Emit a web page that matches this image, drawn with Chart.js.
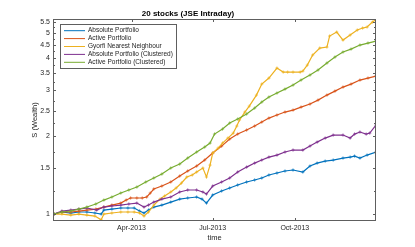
<!DOCTYPE html>
<html>
<head>
<meta charset="utf-8">
<script src="https://cdn.jsdelivr.net/npm/chart.js@4.4.1/dist/chart.umd.min.js"></script>
<style>
  html, body { margin: 0; padding: 0; background: #fff; }
  #wrap { width: 415px; height: 247px; }
</style>
</head>
<body>
<div id="wrap"><canvas id="wealthChart" width="415" height="247"></canvas></div>
<script>
// x values are day of year 2013 (0 = 1 Jan), y values are wealth S
const absDays = [3, 12, 22, 31, 40, 49, 56, 59, 68, 78, 86, 93, 99, 104, 109, 115, 124, 134, 144, 153, 163, 169, 174, 181, 191, 200, 209, 219, 228, 236, 244, 253, 262, 271, 282, 290, 298, 307, 316, 327, 335, 340, 346, 354, 364];
const absVals = [1.000, 1.018, 1.009, 1.018, 1.018, 1.009, 1.000, 1.036, 1.045, 1.055, 1.055, 1.055, 1.027, 1.009, 1.036, 1.064, 1.083, 1.112, 1.142, 1.153, 1.163, 1.142, 1.102, 1.184, 1.227, 1.260, 1.294, 1.329, 1.353, 1.377, 1.414, 1.439, 1.465, 1.478, 1.452, 1.531, 1.572, 1.600, 1.615, 1.644, 1.658, 1.673, 1.644, 1.688, 1.734];

const actDays = [3, 12, 22, 31, 40, 50, 59, 68, 78, 84, 89, 96, 102, 107, 111, 115, 124, 134, 144, 153, 163, 172, 181, 191, 200, 209, 219, 228, 236, 244, 253, 262, 271, 280, 290, 299, 309, 318, 327, 336, 346, 355, 364];
const actVals = [1.000, 1.018, 1.018, 1.027, 1.036, 1.045, 1.064, 1.083, 1.102, 1.132, 1.153, 1.153, 1.153, 1.163, 1.205, 1.249, 1.282, 1.329, 1.401, 1.465, 1.531, 1.615, 1.718, 1.828, 1.946, 2.034, 2.108, 2.184, 2.263, 2.344, 2.408, 2.473, 2.517, 2.585, 2.655, 2.750, 2.875, 2.979, 3.087, 3.170, 3.285, 3.344, 3.404];

const gyoDays = [3, 12, 22, 31, 40, 49, 56, 59, 68, 78, 86, 93, 99, 104, 109, 115, 122, 127, 134, 140, 146, 152, 158, 163, 170, 174, 178, 181, 187, 192, 198, 204, 208, 211, 217, 222, 230, 236, 244, 253, 260, 265, 271, 279, 282, 287, 293, 301, 309, 312, 320, 327, 335, 343, 349, 354, 360, 364];
const gyoVals = [1.000, 1.000, 0.991, 1.000, 0.991, 0.982, 0.950, 1.000, 1.009, 1.018, 1.018, 1.018, 1.009, 0.982, 1.018, 1.083, 1.142, 1.173, 1.216, 1.260, 1.317, 1.389, 1.414, 1.452, 1.504, 1.389, 1.544, 1.718, 1.796, 1.878, 1.963, 2.052, 2.184, 2.303, 2.473, 2.608, 2.875, 3.170, 3.344, 3.654, 3.527, 3.527, 3.527, 3.527, 3.558, 3.753, 4.102, 4.365, 4.404, 4.856, 5.032, 4.686, 4.899, 5.122, 5.214, 5.260, 5.499, 5.620];

const absClDays = [3, 12, 22, 31, 40, 51, 59, 68, 78, 87, 96, 104, 109, 115, 124, 134, 144, 153, 163, 170, 174, 181, 191, 200, 209, 219, 228, 236, 244, 253, 262, 271, 282, 290, 298, 307, 316, 327, 335, 340, 346, 353, 357, 364];
const absClVals = [1.000, 1.027, 1.036, 1.045, 1.055, 1.036, 1.064, 1.074, 1.083, 1.093, 1.102, 1.064, 1.083, 1.112, 1.142, 1.163, 1.216, 1.238, 1.238, 1.216, 1.194, 1.282, 1.329, 1.377, 1.452, 1.517, 1.572, 1.615, 1.658, 1.688, 1.734, 1.765, 1.765, 1.828, 1.894, 1.963, 2.016, 2.016, 1.963, 2.034, 2.071, 2.034, 2.052, 2.203];

const actClDays = [3, 12, 22, 31, 40, 50, 59, 68, 78, 87, 96, 106, 115, 124, 134, 144, 153, 163, 172, 178, 183, 192, 200, 209, 219, 228, 236, 244, 253, 262, 271, 280, 290, 299, 309, 318, 327, 336, 346, 355, 364];
const actClVals = [1.000, 1.018, 1.027, 1.045, 1.064, 1.093, 1.132, 1.163, 1.205, 1.238, 1.271, 1.329, 1.377, 1.426, 1.504, 1.558, 1.644, 1.734, 1.812, 1.878, 2.034, 2.126, 2.243, 2.324, 2.430, 2.562, 2.702, 2.825, 2.927, 3.032, 3.142, 3.285, 3.434, 3.590, 3.820, 4.029, 4.213, 4.326, 4.483, 4.563, 4.645];

const seriesNames = ['Absolute Portfolio', 'Active Portfolio', 'Gyorfi Nearest Neighbour', 'Absolute Portfolio (Clustered)', 'Active Portfolio (Clustered)'];
const xTickDays = [90, 181, 273];
const xTickLabels = ['Apr-2013', 'Jul-2013', 'Oct-2013'];
const yTicks = [1, 1.5, 2, 2.5, 3, 3.5, 4, 4.5, 5, 5.5];

const FONT = "'Liberation Sans', Arial, Helvetica, sans-serif";
const TEXT_COLOR = '#262626';
const AXIS_COLOR = '#5e5e5e';

function toPoints(days, vals) {
  return days.map((d, i) => ({ x: d, y: vals[i] }));
}

function makeSet(label, days, vals, color, order) {
  return {
    label: label,
    data: toPoints(days, vals),
    borderColor: color,
    backgroundColor: color,
    borderWidth: 1.2,
    pointStyle: 'cross',
    pointRadius: 1.6,
    pointBorderWidth: 0.7,
    tension: 0,
    order: order
  };
}

// box, inward ticks and legend drawn like a MATLAB axes
const matlabAxes = {
  id: 'matlabAxes',
  afterDraw(chart) {
    const { ctx, chartArea: a, scales: { x, y } } = chart;
    ctx.save();
    ctx.strokeStyle = AXIS_COLOR;
    ctx.lineWidth = 1;
    ctx.strokeRect(a.left + 0.5, a.top + 0.5, a.right - a.left - 1, a.bottom - a.top - 1);

    ctx.beginPath();
    x.ticks.forEach(t => {
      const px = Math.round(x.getPixelForValue(t.value)) + 0.5;
      ctx.moveTo(px, a.bottom); ctx.lineTo(px, a.bottom - 3);
      ctx.moveTo(px, a.top); ctx.lineTo(px, a.top + 3);
    });
    y.ticks.forEach((t, i) => {
      const py = Math.round(y.getPixelForValue(t.value)) + 0.5;
      ctx.moveTo(a.left, py); ctx.lineTo(a.left + 3, py);
      ctx.moveTo(a.right, py); ctx.lineTo(a.right - 3, py);
      // minor tick halfway (log space) to the next one
      if (i < y.ticks.length - 1) {
        const mid = Math.sqrt(t.value * y.ticks[i + 1].value);
        const pm = Math.round(y.getPixelForValue(mid)) + 0.5;
        ctx.moveTo(a.left, pm); ctx.lineTo(a.left + 2, pm);
        ctx.moveTo(a.right, pm); ctx.lineTo(a.right - 2, pm);
      }
    });
    ctx.stroke();

    // legend
    const lx = 60, ly = 24, lw = 116, lh = 44;
    ctx.fillStyle = '#ffffff';
    ctx.fillRect(lx, ly, lw, lh);
    ctx.strokeStyle = AXIS_COLOR;
    ctx.strokeRect(lx + 0.5, ly + 0.5, lw, lh);
    ctx.font = '6.5px ' + FONT;
    ctx.textBaseline = 'middle';
    ctx.textAlign = 'left';
    chart.data.datasets.forEach((ds, i) => {
      const ry = ly + 6.7 + i * 7.9;
      ctx.strokeStyle = ds.borderColor;
      ctx.lineWidth = 1;
      ctx.beginPath();
      ctx.moveTo(64, ry); ctx.lineTo(85, ry);
      ctx.stroke();
      ctx.fillStyle = TEXT_COLOR;
      ctx.fillText(ds.label, 88, ry);
    });
    ctx.restore();
  }
};

const ctx = document.getElementById('wealthChart').getContext('2d');
new Chart(ctx, {
  type: 'line',
  data: {
    datasets: [
      makeSet(seriesNames[0], absDays, absVals, '#0072BD', 5),
      makeSet(seriesNames[1], actDays, actVals, '#D95319', 4),
      makeSet(seriesNames[2], gyoDays, gyoVals, '#EDB120', 3),
      makeSet(seriesNames[3], absClDays, absClVals, '#7E2F8E', 2),
      makeSet(seriesNames[4], actClDays, actClVals, '#77AC30', 1)
    ]
  },
  options: {
    responsive: false,
    animation: false,
    devicePixelRatio: 1,
    layout: { padding: { left: 0, right: 39, top: 0, bottom: 0 } },
    scales: {
      x: {
        type: 'linear',
        min: 2,
        max: 364,
        afterBuildTicks: scale => { scale.ticks = xTickDays.map(v => ({ value: v })); },
        afterFit: scale => { scale.height = 26; },
        grid: { display: false, drawTicks: false },
        border: { display: false },
        ticks: {
          autoSkip: false,
          maxRotation: 0,
          padding: 3,
          color: TEXT_COLOR,
          font: { family: FONT, size: 7 },
          callback: v => xTickLabels[xTickDays.indexOf(v)] || ''
        },
        title: {
          display: true,
          text: 'time',
          color: TEXT_COLOR,
          font: { family: FONT, size: 7.5 },
          padding: { top: 0, bottom: 4.5 }
        }
      },
      y: {
        type: 'logarithmic',
        min: 0.94,
        max: 5.65,
        afterBuildTicks: scale => { scale.ticks = yTicks.map(v => ({ value: v })); },
        afterFit: scale => { scale.width = 53; },
        grid: { display: false, drawTicks: false },
        border: { display: false },
        ticks: {
          autoSkip: false,
          padding: 3,
          color: TEXT_COLOR,
          font: { family: FONT, size: 7 },
          callback: v => String(v)
        },
        title: {
          display: true,
          text: 'S (Wealth)',
          color: TEXT_COLOR,
          font: { family: FONT, size: 7.5 },
          padding: { top: 30, bottom: 0 }
        }
      }
    },
    plugins: {
      legend: { display: false },
      tooltip: { enabled: false },
      title: {
        display: true,
        text: '20 stocks (JSE Intraday)',
        color: '#000000',
        font: { family: FONT, size: 8, weight: 'bold' },
        padding: { top: 9, bottom: 0.4 }
      }
    }
  },
  plugins: [matlabAxes]
});
</script>
</body>
</html>
